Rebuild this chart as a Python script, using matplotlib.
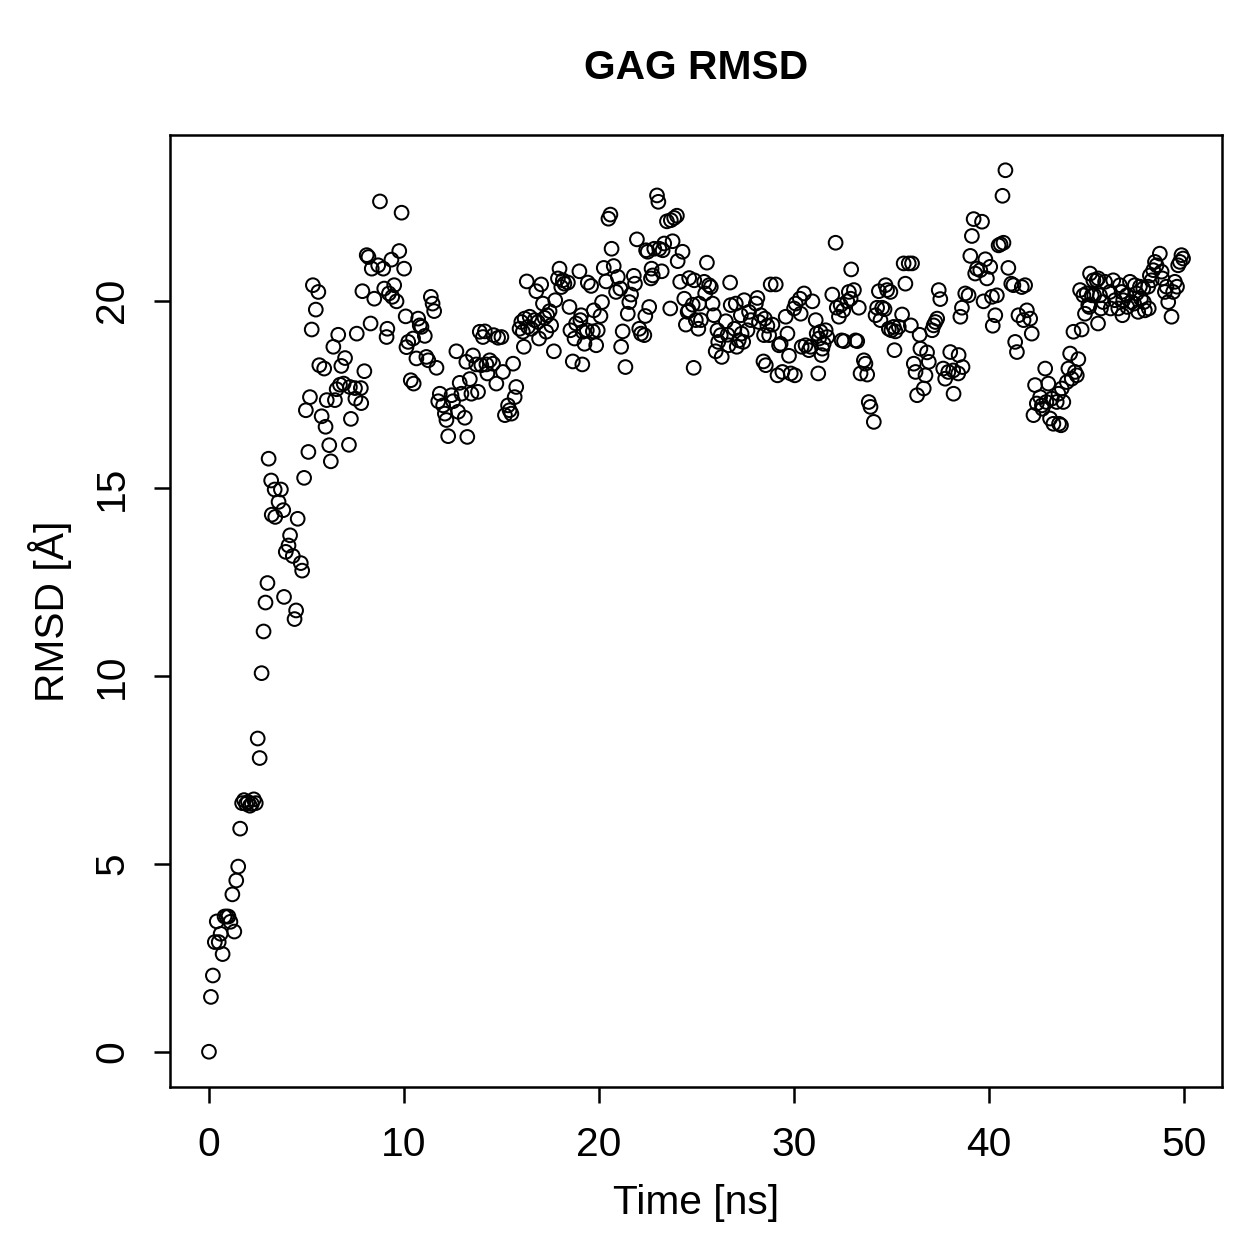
import matplotlib
matplotlib.use("Agg")
import matplotlib.pyplot as plt

plt.rcParams['font.family'] = ['Liberation Sans', 'DejaVu Sans']

# values (time in ns, RMSD in Angstrom)
time_ns = [
    0.0, 0.1, 0.2, 0.3, 0.4, 0.5, 0.6, 0.7, 0.8, 0.9,
    1.0, 1.1, 1.2, 1.3, 1.4, 1.5, 1.6, 1.7, 1.8, 1.9,
    2.0, 2.1, 2.2, 2.3, 2.4, 2.5, 2.6, 2.7, 2.8, 2.9, 3.0,
    3.06, 3.19, 3.22, 3.37, 3.40, 3.57, 3.69, 3.81, 3.85, 3.94,
    4.08, 4.16, 4.30, 4.39, 4.47, 4.55, 4.71, 4.78, 4.88, 4.97,
    5.10, 5.18, 5.27, 5.33, 5.48, 5.61, 5.66, 5.78, 5.91, 5.98,
    6.04, 6.17, 6.25, 6.38, 6.46, 6.55, 6.63, 6.72, 6.79, 6.91, 6.98,
    7.18, 7.23, 7.28, 7.49, 7.51, 7.58, 7.79, 7.81, 7.87, 7.97,
    8.09, 8.18, 8.29, 8.35, 8.48, 8.68, 8.77, 8.94, 8.99,
    9.11, 9.15, 9.23, 9.36, 9.40, 9.50, 9.62, 9.76, 9.88,
    10.01, 10.09, 10.13, 10.22, 10.35, 10.47, 10.50, 10.64, 10.73, 10.81,
    10.90, 11.07, 11.15, 11.25, 11.38, 11.47, 11.55, 11.67, 11.76, 11.84,
    12.01, 12.10, 12.18, 12.27, 12.44, 12.52, 12.69, 12.78, 12.86, 12.95,
    13.12, 13.20, 13.25, 13.38, 13.46, 13.54, 13.71, 13.80, 13.89, 13.97,
    14.05, 14.15, 14.23, 14.28, 14.40, 14.57, 14.60, 14.74, 14.83, 15.00,
    15.08, 15.18, 15.34, 15.42, 15.51, 15.60, 15.68, 15.76, 15.93,
    16.02, 16.10, 16.15, 16.19, 16.30, 16.36, 16.45, 16.53,
    16.70, 16.79, 16.87, 16.93, 17.04, 17.13, 17.21, 17.30, 17.35, 17.47,
    17.55, 17.69, 17.76, 17.90, 17.98, 18.07, 18.15, 18.23, 18.41, 18.49,
    18.54, 18.66, 18.75, 18.83, 19.00, 19.05, 19.09, 19.15, 19.18, 19.26,
    19.38, 19.43, 19.60, 19.69, 19.74, 19.86, 19.94, 20.08, 20.16, 20.25,
    20.37, 20.49, 20.59, 20.65, 20.76, 20.88, 20.97, 21.10, 21.14, 21.22,
    21.36, 21.48, 21.56, 21.65, 21.79, 21.85, 21.95, 22.07, 22.16, 22.33,
    22.38, 22.42, 22.50, 22.58, 22.67,
    22.70, 22.76, 22.84, 22.98, 23.05, 23.10, 23.22, 23.27, 23.35, 23.49,
    23.66, 23.69, 23.78, 23.86, 24.00, 24.04, 24.17, 24.29, 24.38, 24.46,
    24.55, 24.60, 24.63, 24.81, 24.86, 24.89, 24.97, 25.10, 25.14, 25.23,
    25.40, 25.45, 25.54, 25.65, 25.74, 25.83, 25.90, 25.99, 26.08, 26.12,
    26.25, 26.30, 26.51, 26.60, 26.65, 26.73, 26.76, 26.95, 27.02, 27.07,
    27.17, 27.28, 27.32, 27.40, 27.45, 27.62, 27.70, 27.79, 28.05, 28.13,
    28.21, 28.30, 28.44, 28.47, 28.51, 28.56, 28.64, 28.81,
    28.73, 28.90, 29.07, 29.16, 29.24, 29.32, 29.41, 29.58, 29.67, 29.75,
    29.84, 30.01, 30.05, 30.09, 30.31, 30.35, 30.40, 30.52, 30.60, 30.77,
    30.86, 30.95, 31.12, 31.17, 31.25, 31.29, 31.37, 31.42, 31.46, 31.53,
    31.63, 31.71, 31.97, 32.14, 32.20, 32.31, 32.40, 32.45, 32.53, 32.57,
    32.74, 32.82, 32.91, 32.94, 33.08, 33.16, 33.25, 33.33, 33.42, 33.59,
    33.67, 33.76, 33.84, 33.93, 34.10, 34.19, 34.27, 34.36,
    34.44, 34.53, 34.65, 34.70, 34.78, 34.87, 34.95, 35.00, 35.12, 35.16,
    35.21, 35.38, 35.55, 35.63, 35.72, 35.89, 36.00, 36.06, 36.15, 36.24,
    36.32, 36.45, 36.49, 36.66, 36.75, 36.83, 36.92, 37.09, 37.17, 37.26,
    37.35, 37.43, 37.51, 37.66, 37.76, 37.92, 38.02, 38.17, 38.19, 38.43,
    38.45, 38.54, 38.62, 38.65, 38.79, 38.96, 39.05, 39.13, 39.22, 39.30,
    39.39, 39.56, 39.65, 39.73, 39.82, 39.90,
    40.07, 40.16, 40.20, 40.33, 40.41, 40.50, 40.60, 40.70, 40.75, 40.85,
    41.00, 41.15, 41.26, 41.35, 41.44, 41.52, 41.69, 41.78, 41.86, 41.95,
    42.12, 42.20, 42.29, 42.37, 42.46, 42.63, 42.72, 42.75, 42.89, 42.95,
    43.05, 43.14, 43.23, 43.31, 43.48, 43.57, 43.60, 43.70, 43.74, 43.82,
    44.00, 44.08, 44.17, 44.25, 44.34, 44.42, 44.51, 44.59, 44.68, 44.76,
    44.85, 44.93, 45.02, 45.10, 45.15, 45.19, 45.28, 45.36, 45.40, 45.53,
    45.60, 45.61, 45.70, 45.75,
    45.87, 45.96, 46.21, 46.25, 46.38, 46.47, 46.64, 46.72, 46.81, 46.85,
    46.89, 47.07, 47.10, 47.24, 47.32, 47.45, 47.49, 47.58, 47.66, 47.75,
    47.80, 47.92, 47.95, 48.00, 48.17, 48.20, 48.26, 48.35, 48.43, 48.52,
    48.60, 48.77, 48.86, 48.90, 49.03, 49.11, 49.20, 49.37, 49.45, 49.54,
    49.65, 49.71, 49.80, 49.88, 49.96,
]

rmsd = [
    0.00, 1.46, 2.03, 2.92, 3.47, 2.92, 3.14, 2.60, 3.60, 3.60,
    3.60, 3.46, 4.19, 3.20, 4.56, 4.93, 5.94, 6.62, 6.70, 6.60,
    6.65, 6.55, 6.60, 6.72, 6.62, 8.34, 7.82, 10.08, 11.19, 11.96, 12.48,
    15.79, 15.21, 14.30, 14.97, 14.24, 14.64, 14.97, 14.42, 12.11, 13.31,
    13.48, 13.75, 13.20, 11.52, 11.75, 14.19, 13.01, 12.81, 15.28, 17.08,
    15.97, 17.43, 19.23, 20.41, 19.76, 20.23, 18.28, 16.92, 18.19, 16.64,
    17.35, 16.15, 15.72, 18.77, 17.35, 17.64, 19.09, 17.76, 18.26, 17.79, 18.47,
    16.16, 17.70, 16.85, 17.67, 17.39, 19.12, 17.67, 17.27, 20.25, 18.12,
    21.21, 21.16, 19.39, 20.85, 20.05, 20.94, 22.64, 20.85, 20.32,
    19.03, 19.25, 20.19, 21.09, 20.10, 20.41, 19.98, 21.32, 22.34,
    20.85, 19.58, 18.76, 18.90, 17.88, 18.99, 17.79, 18.46, 19.52, 19.34,
    19.30, 19.06, 18.50, 18.41, 20.10, 19.92, 19.72, 18.21, 17.32, 17.52,
    17.21, 16.99, 16.82, 16.39, 17.48, 17.32, 18.65, 17.04, 17.81, 17.52,
    16.88, 18.37, 16.37, 17.91, 17.52, 18.54, 18.30, 17.57, 19.17, 18.28,
    19.03, 19.18, 18.30, 18.06, 18.41, 18.32, 19.08, 17.79, 19.01, 19.03,
    18.10, 16.95, 17.21, 17.08, 16.99, 18.32, 17.43, 17.70, 19.25,
    19.43, 19.17, 18.77, 19.52, 20.51, 19.30, 19.57, 19.25,
    19.48, 20.25, 19.43, 18.99, 20.43, 19.92, 19.54, 19.17, 19.61, 19.72,
    19.34, 18.65, 20.01, 20.59, 20.85, 20.36, 20.54, 20.45, 20.48, 19.83,
    19.21, 18.38, 18.99, 19.39, 20.78, 19.48, 19.61, 18.30, 19.17, 18.85,
    19.21, 20.48, 20.39, 19.18, 19.74, 18.81, 19.21, 19.59, 19.96, 20.87,
    20.51, 22.18, 22.29, 21.38, 20.92, 20.23, 20.63, 20.32, 18.77, 19.18,
    18.23, 19.65, 19.96, 20.16, 20.66, 20.45, 21.63, 19.25, 19.12, 19.08,
    19.59, 21.34, 21.30, 19.83, 20.59,
    20.85, 20.67, 21.38, 22.80, 22.63, 21.38, 20.78, 21.34, 21.52, 22.11,
    19.79, 22.14, 21.58, 22.20, 22.26, 21.05, 20.50, 21.30, 20.05, 19.36,
    19.70, 19.74, 20.60, 19.89, 18.21, 20.54, 19.48, 19.25, 19.92, 19.48,
    20.50, 20.19, 21.01, 20.41, 20.36, 19.92, 19.61, 18.65, 19.21, 18.90,
    19.08, 18.50, 19.45, 19.09, 18.81, 20.48, 19.88, 19.25, 19.92, 18.77,
    18.94, 19.61, 19.12, 18.90, 20.01, 19.21, 19.70, 19.48, 19.92, 20.07,
    19.43, 19.61, 18.38, 19.08, 19.52, 18.28, 19.33, 20.43,
    19.08, 19.36, 20.43, 18.01, 18.81, 18.85, 18.10, 19.57, 19.12, 18.53,
    18.06, 19.79, 18.01, 19.92, 20.05, 19.65, 18.77, 20.19, 18.81, 18.68,
    18.77, 19.98, 19.48, 19.12, 18.06, 18.99, 19.17, 18.55, 18.72, 18.85,
    19.21, 19.03, 20.16, 21.54, 19.81, 19.57, 19.88, 18.94, 19.74, 18.92,
    19.98, 20.23, 20.05, 20.83, 20.28, 18.94, 18.92, 19.81, 18.06, 18.41,
    18.32, 18.03, 17.30, 17.17, 16.77, 19.61, 19.81, 20.25,
    19.48, 19.81, 19.77, 20.41, 20.28, 19.25, 20.23, 19.21, 19.30, 18.68,
    19.18, 19.30, 19.63, 20.99, 20.45, 20.99, 19.34, 20.99, 18.32, 18.10,
    17.48, 19.09, 18.72, 17.66, 18.01, 18.62, 18.37, 19.21, 19.34, 19.43,
    19.52, 20.28, 20.04, 18.19, 17.92, 18.10, 18.63, 18.14, 17.52, 18.06,
    18.55, 19.57, 19.81, 18.23, 20.19, 20.14, 21.19, 21.72, 22.17, 20.72,
    20.85, 20.81, 22.10, 19.98, 21.10, 20.59,
    20.90, 20.10, 19.33, 19.61, 20.14, 21.47, 21.50, 22.79, 21.54, 23.47,
    20.87, 20.45, 20.41, 18.90, 18.63, 19.61, 20.36, 19.48, 20.41, 19.74,
    19.52, 19.12, 16.95, 17.75, 17.26, 17.43, 17.21, 17.12, 18.19, 17.30,
    17.79, 16.86, 17.39, 16.72, 17.30, 17.52, 16.72, 16.68, 17.66, 17.30,
    17.83, 18.19, 18.59, 17.92, 19.17, 18.10, 18.01, 18.44, 20.28, 19.23,
    20.14, 19.65, 20.19, 19.88, 19.83, 20.72, 20.14, 20.54, 20.14, 20.54,
    19.39, 20.59, 20.14, 19.79,
    19.96, 20.50, 20.23, 19.79, 20.54, 20.01, 19.79, 20.41, 20.23, 19.61,
    20.01, 20.14, 19.83, 20.50, 19.96, 19.92, 20.41, 20.19, 19.70, 20.37,
    20.05, 20.32, 19.96, 19.74, 20.37, 19.79, 20.67, 20.54, 20.81, 21.03,
    20.94, 21.25, 20.77, 20.59, 20.23, 20.37, 19.96, 19.57, 20.23, 20.50,
    20.37, 20.94, 21.03, 21.21, 21.12,
]

assert len(time_ns) == len(rmsd)

W = 1259
fig = plt.figure(figsize=(W / 180, W / 180), dpi=180)
ax = fig.add_axes([170 / W, 1 - 1087 / W, (1222 - 170) / W, (1087 - 135) / W])

ax.scatter(time_ns, rmsd, s=30, facecolors='none', edgecolors='black', linewidths=0.8)

# R style 4% padding of the axis range
xr = max(time_ns) - min(time_ns)
yr = max(rmsd) - min(rmsd)
ax.set_xlim(min(time_ns) - 0.04 * xr, max(time_ns) + 0.04 * xr)
ax.set_ylim(min(rmsd) - 0.04 * yr, max(rmsd) + 0.04 * yr)

ax.set_xticks([0, 10, 20, 30, 40, 50])
ax.set_yticks([0, 5, 10, 15, 20])
ax.tick_params(direction='out', length=6.5, width=1.0, labelsize=16.3, pad=9)
for lbl in ax.get_yticklabels():
    lbl.set_rotation(90)
    lbl.set_va('center')
for sp in ax.spines.values():
    sp.set_linewidth(1.0)

fig.text(696 / W, 1 - 68 / W, 'GAG RMSD', ha='center', va='center',
         fontsize=16.3, fontweight='bold')
fig.text(696 / W, 1 - 1203 / W, 'Time [ns]', ha='center', va='center', fontsize=16.3)
fig.text(50 / W, 1 - 611 / W, 'RMSD [Å]', ha='center', va='center',
         rotation=90, fontsize=16.3)

fig.savefig('out.png', dpi=180)
